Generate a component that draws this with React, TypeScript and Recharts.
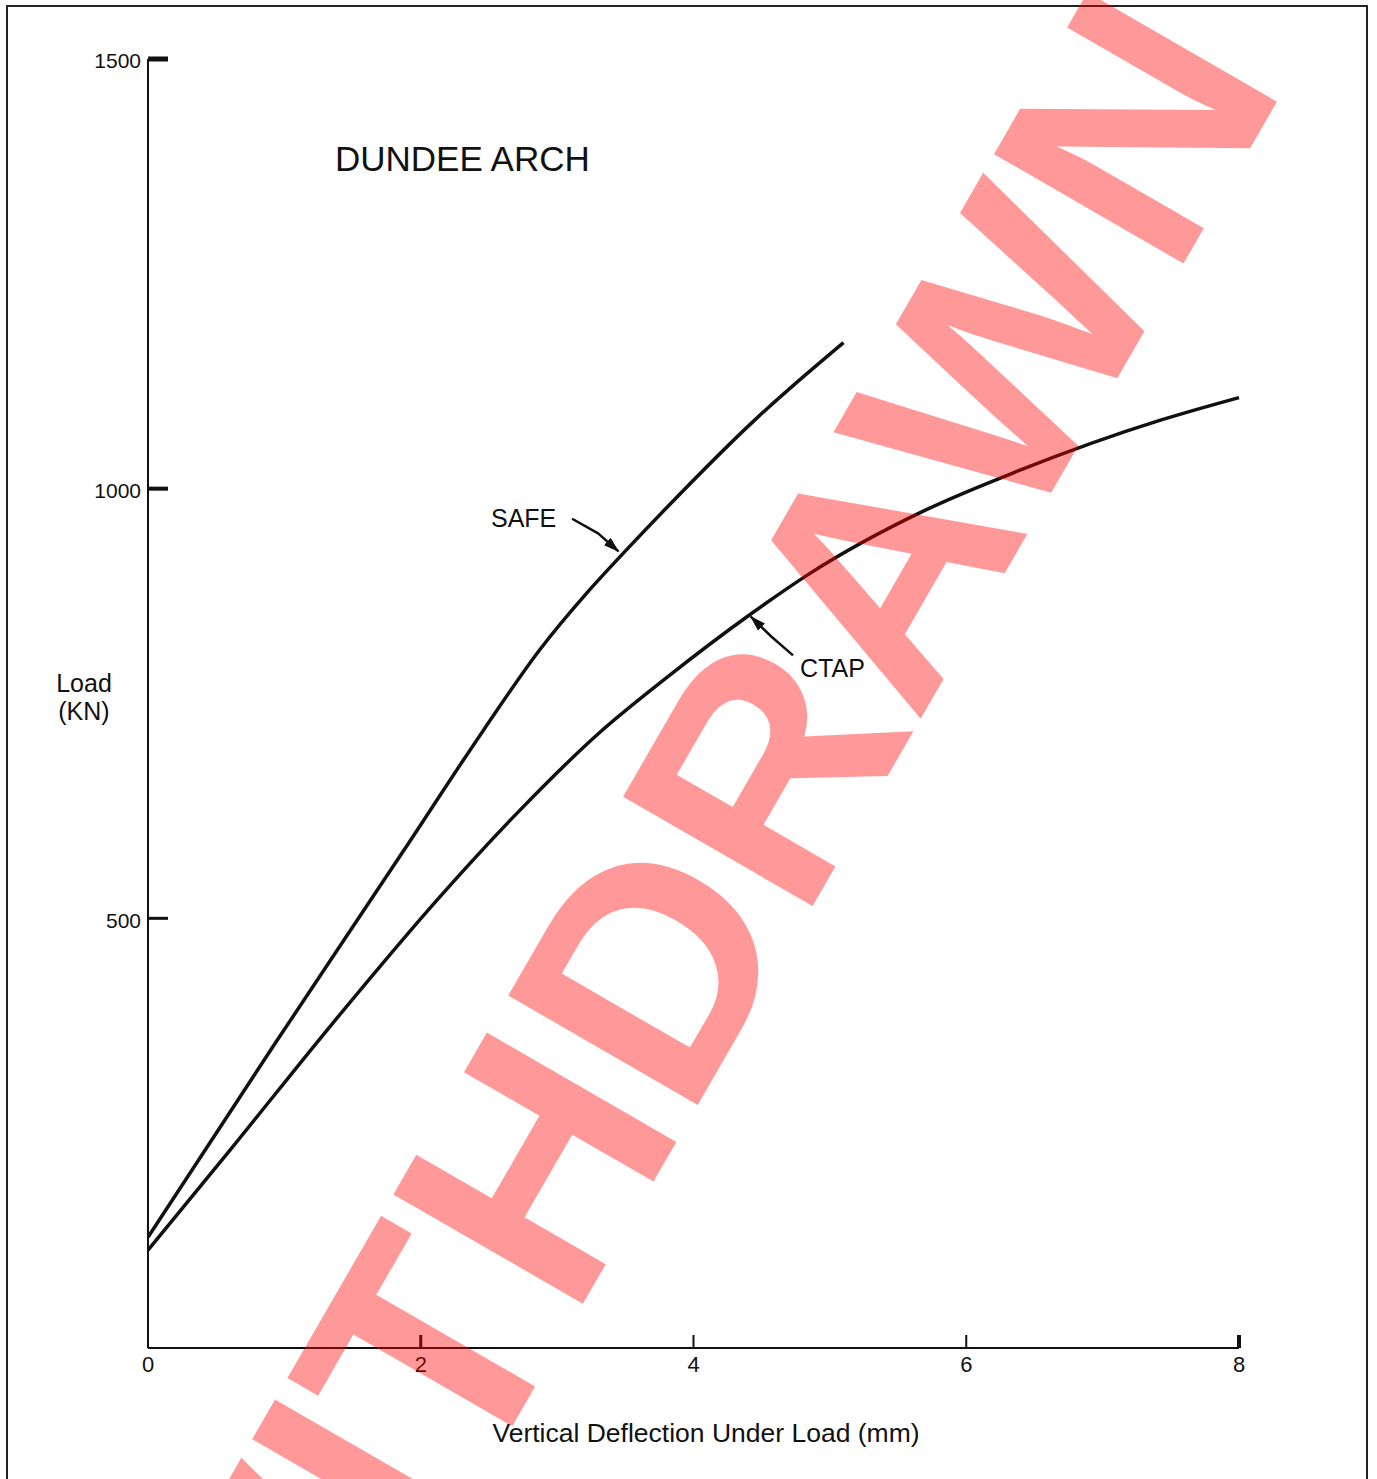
import { Line, LineChart, XAxis, YAxis } from 'recharts';

// deflection (mm) / load (kN)
const safeDeflection = [0, 0.93, 1.88, 2.46, 2.87, 3.22, 3.51, 3.81, 4.47, 4.84, 5.1];
const safeLoad = [129, 354, 580, 719, 812, 879, 929, 979, 1083, 1135, 1170];

const ctapDeflection = [0, 0.6, 1.36, 2.14, 2.71, 3.31, 3.81, 4.41, 4.84, 5.7, 6.37, 7.43, 8.0];
const ctapLoad = [114, 230, 379, 525, 623, 716, 781, 853, 900, 975, 1020, 1080, 1106];

// label arrows (tail -> tip)
const safeArrowDeflection = [3.11, 3.3, 3.45];
const safeArrowLoad = [965, 948, 927];
const ctapArrowDeflection = [4.73, 4.57, 4.42];
const ctapArrowLoad = [806, 828, 851];

const xTicks = [0, 2, 4, 6, 8];
const yTicks = [500, 1000, 1500];

const toPoints = (xs, ys) => xs.map((x, i) => ({ x, load: ys[i] }));

const safeData = toPoints(safeDeflection, safeLoad);
const ctapData = toPoints(ctapDeflection, ctapLoad);
const safeArrow = toPoints(safeArrowDeflection, safeArrowLoad);
const ctapArrow = toPoints(ctapArrowDeflection, ctapArrowLoad);

const FONT = '"Liberation Sans", Arial, Helvetica, sans-serif';
const INK = '#111';

const yTickWeight = { 500: 3, 1000: 4, 1500: 5 };
const xTickWeight = { 2: 3, 4: 2, 6: 2, 8: 4 };

const YTick = ({ x, y, payload }) => (
  <g>
    <line x1={x} x2={x + 20} y1={y} y2={y} stroke={INK} strokeWidth={yTickWeight[payload.value] || 3} />
    <text x={x - 7} y={y + 2} dy="0.35em" textAnchor="end" fontSize={21} fontFamily={FONT} fill={INK}>
      {payload.value}
    </text>
  </g>
);

const XTick = ({ x, y, payload }) => (
  <g>
    {payload.value !== 0 && (
      <line x1={x} x2={x} y1={y} y2={y - 13} stroke={INK} strokeWidth={xTickWeight[payload.value] || 2} />
    )}
    <text x={x} y={y + 16} dy="0.35em" textAnchor="middle" fontSize={22} fontFamily={FONT} fill={INK}>
      {payload.value}
    </text>
  </g>
);

const label = (left, top, size, text) => (
  <div
    style={{
      position: 'absolute',
      left,
      top,
      transform: 'translateY(-50%)',
      fontFamily: FONT,
      fontSize: size,
      lineHeight: 1,
      color: INK,
      whiteSpace: 'nowrap',
    }}
  >
    {text}
  </div>
);

const frameBar = (left, top, width, height) => (
  <div style={{ position: 'absolute', left, top, width, height, background: '#222' }} />
);

export default function App() {
  return (
    <div
      style={{
        position: 'absolute',
        left: 0,
        top: 0,
        width: 1377,
        height: 1479,
        overflow: 'hidden',
        background: '#fff',
      }}
    >
      {/* page frame, bottom edge falls off the page */}
      {frameBar(6, 5, 1362, 2)}
      {frameBar(6, 5, 2, 1474)}
      {frameBar(1366, 5, 2, 1474)}

      <div style={{ position: 'absolute', left: 0, top: 0 }}>
        <LineChart width={1377} height={1479} margin={{ top: 59, right: 138, bottom: 91, left: 88 }}>
          <defs>
            <marker
              id="arrowHead"
              markerWidth="16"
              markerHeight="10"
              refX="15"
              refY="5"
              orient="auto"
              markerUnits="userSpaceOnUse"
            >
              <path d="M0,0 L16,5 L0,10 Z" fill={INK} />
            </marker>
          </defs>
          <XAxis
            type="number"
            dataKey="x"
            domain={[0, 8]}
            ticks={xTicks}
            height={40}
            tickSize={0}
            tickMargin={0}
            tickLine={false}
            axisLine={{ stroke: INK, strokeWidth: 2 }}
            tick={<XTick />}
          />
          <YAxis
            type="number"
            dataKey="load"
            domain={[0, 1500]}
            ticks={yTicks}
            width={60}
            tickSize={0}
            tickMargin={0}
            tickLine={false}
            axisLine={{ stroke: INK, strokeWidth: 2 }}
            tick={<YTick />}
          />
          <Line
            data={safeData}
            dataKey="load"
            type="monotone"
            stroke={INK}
            strokeWidth={3.5}
            dot={false}
            activeDot={false}
            isAnimationActive={false}
          />
          <Line
            data={ctapData}
            dataKey="load"
            type="monotone"
            stroke={INK}
            strokeWidth={3.5}
            dot={false}
            activeDot={false}
            isAnimationActive={false}
          />
          <Line
            data={safeArrow}
            dataKey="load"
            type="linear"
            stroke={INK}
            strokeWidth={2.5}
            dot={false}
            activeDot={false}
            markerEnd="url(#arrowHead)"
            isAnimationActive={false}
          />
          <Line
            data={ctapArrow}
            dataKey="load"
            type="linear"
            stroke={INK}
            strokeWidth={2.5}
            dot={false}
            activeDot={false}
            markerEnd="url(#arrowHead)"
            isAnimationActive={false}
          />
        </LineChart>
      </div>

      {label(335, 158, 35, 'DUNDEE ARCH')}
      {label(491, 518, 25, 'SAFE')}
      {label(800, 668, 25, 'CTAP')}
      <div
        style={{
          position: 'absolute',
          left: 84,
          top: 697,
          transform: 'translate(-50%, -50%)',
          fontFamily: FONT,
          fontSize: 25,
          lineHeight: '28px',
          color: INK,
          textAlign: 'center',
          whiteSpace: 'nowrap',
        }}
      >
        Load
        <br />
        (KN)
      </div>
      <div
        style={{
          position: 'absolute',
          left: 706,
          top: 1433,
          transform: 'translate(-50%, -50%)',
          fontFamily: FONT,
          fontSize: 26.5,
          lineHeight: 1,
          color: INK,
          whiteSpace: 'nowrap',
        }}
      >
        Vertical Deflection Under Load (mm)
      </div>

      {/* WITHDRAWN stamp over everything */}
      <div
        style={{
          position: 'absolute',
          left: 689,
          top: 900,
          transform: 'translate(-50%, -50%) rotate(-60deg)',
          fontFamily: FONT,
          fontWeight: 'bold',
          fontSize: 318,
          lineHeight: 1,
          color: 'rgba(255, 0, 0, 0.4)',
          whiteSpace: 'nowrap',
          pointerEvents: 'none',
        }}
      >
        WITHDRAWN
      </div>
    </div>
  );
}
